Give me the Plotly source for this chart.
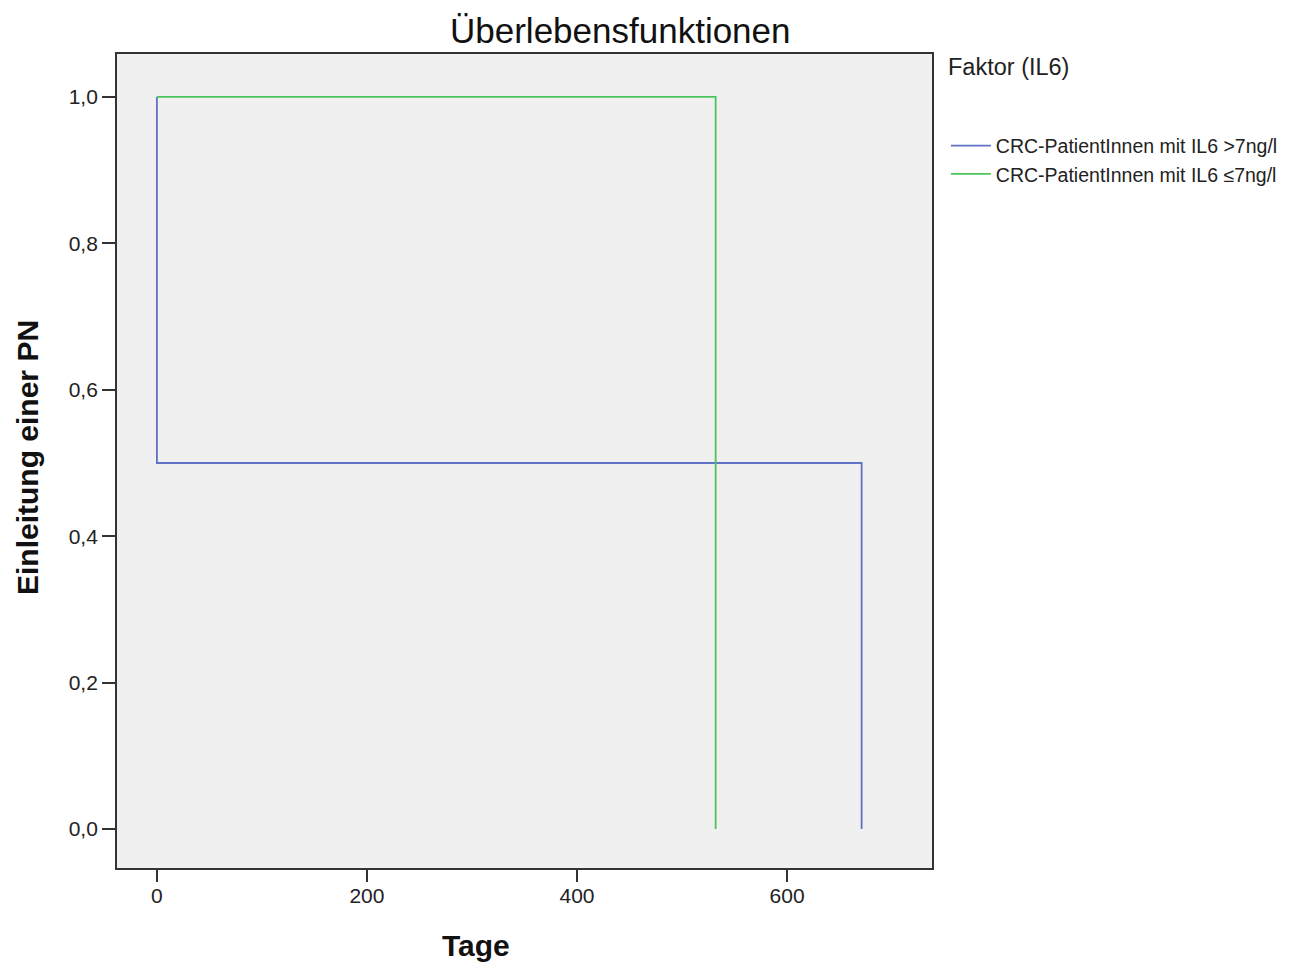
import plotly.graph_objects as go

# Kaplan-Meier step data (days, survival proportion)
blue_name = "CRC-PatientInnen mit IL6 >7ng/l"
blue_days = [0, 0, 671]
blue_surv = [1.0, 0.5, 0.0]

green_name = "CRC-PatientInnen mit IL6 \u22647ng/l"
green_days = [0, 532]
green_surv = [1.0, 0.0]

x_ticks = [0, 200, 400, 600]
y_ticks = [0.0, 0.2, 0.4, 0.6, 0.8, 1.0]

FONT = "Liberation Sans, Arial, sans-serif"

fig = go.Figure()
fig.add_trace(go.Scatter(x=blue_days, y=blue_surv, mode="lines", line_shape="hv",
                         line=dict(color="#5f72c6", width=1.8), name=blue_name))
fig.add_trace(go.Scatter(x=green_days, y=green_surv, mode="lines", line_shape="hv",
                         line=dict(color="#4cc45c", width=1.8), name=green_name))

fig.update_layout(
    width=1314, height=962,
    margin=dict(l=117, r=382, t=54, b=94),
    paper_bgcolor="white", plot_bgcolor="#f0f0f0",
    font=dict(family=FONT, size=20, color="#222"),
    separators=",.",
    showlegend=True,
    legend=dict(x=1.017, y=0.911, xanchor="left", yanchor="top",
                font=dict(family=FONT, size=19.5, color="#222"),
                bgcolor="rgba(0,0,0,0)", tracegroupgap=0, itemwidth=40),
    xaxis=dict(range=[-38, 738], tickvals=x_ticks, ticks="outside", ticklen=12,
               tickwidth=1.5, tickcolor="#333", showgrid=False, zeroline=False,
               showline=True, linecolor="#333", linewidth=1.8, mirror=True,
               tickfont=dict(size=21), ticklabelstandoff=-4),
    yaxis=dict(range=[-0.0533, 1.0587], tickvals=y_ticks, tickformat=".1f",
               ticks="outside", ticklen=13, tickwidth=1.5, tickcolor="#333",
               showgrid=False, zeroline=False, showline=True, linecolor="#333",
               linewidth=1.8, mirror=True, tickfont=dict(size=21)),
    annotations=[
        dict(text="Überlebensfunktionen", xref="paper", yref="paper", x=0.618, y=1.0,
             yshift=24, xanchor="center", yanchor="middle", showarrow=False,
             font=dict(family=FONT, size=35, color="#111")),
        dict(text="<b>Tage</b>", xref="paper", yref="paper", x=0.44, y=0,
             yshift=-77, xanchor="center", yanchor="middle", showarrow=False,
             font=dict(family=FONT, size=30, color="#111")),
        dict(text="<b>Einleitung einer PN</b>", xref="paper", yref="paper", x=0, y=0.5037,
             xshift=-89, xanchor="center", yanchor="middle", textangle=-90,
             showarrow=False, font=dict(family=FONT, size=30, color="#111")),
        dict(text="Faktor (IL6)", xref="paper", yref="paper", x=1.0, y=1.0,
             xshift=14, yshift=2, xanchor="left", yanchor="top", showarrow=False,
             font=dict(family=FONT, size=23.5, color="#222")),
    ],
)

fig.write_html("out.html")
